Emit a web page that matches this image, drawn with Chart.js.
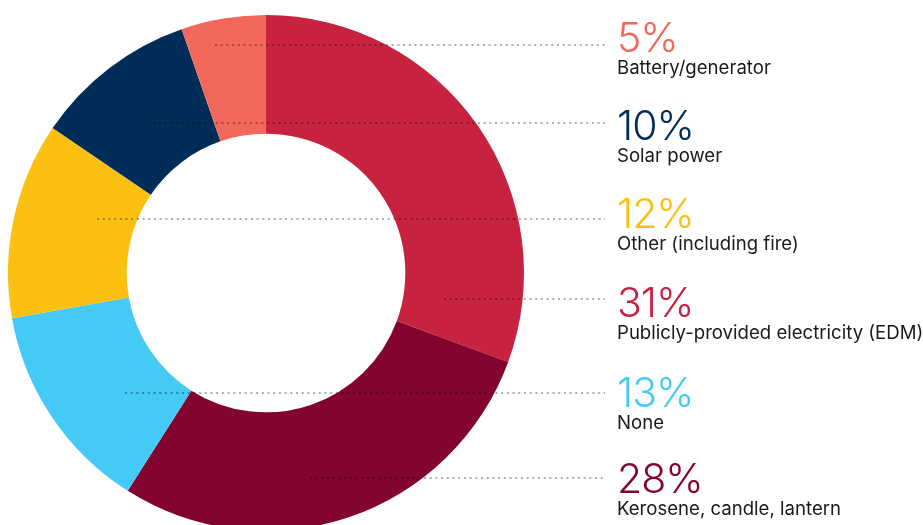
<!DOCTYPE html>
<html lang="en">

<head>
    <title>Lighting sources</title>
    <script src="https://cdn.jsdelivr.net/npm/chart.js@4.4.0/dist/chart.umd.min.js"></script>
    <style>
        html, body {
            margin: 0;
            padding: 0;
            background: #fff;
            width: 923px;
            height: 525px;
            overflow: hidden;
            font-family: Inter, "Noto Sans", sans-serif;
        }

        .wrap {
            position: absolute;
            left: 0;
            top: 0;
            width: 923px;
            height: 540px;
        }

        .row {
            position: absolute;
            left: 617px;
            white-space: nowrap;
        }

        .pct {
            font-size: 41px;
            line-height: 42px;
            font-weight: 300;
            letter-spacing: -1px;
        }

        .lbl {
            font-size: 18.6px;
            line-height: 22px;
            margin-top: -2px;
            color: #1a1a1a;
        }
    </style>
</head>

<body>
    <div class="wrap">
        <canvas id="myChart"></canvas>
    </div>
    <div id="labels"></div>

    <script>
        // data (clockwise from 12 o'clock), slice sizes
        var categories = [
            'Publicly-provided electricity (EDM)',
            'Kerosene, candle, lantern',
            'None',
            'Other (including fire)',
            'Solar power',
            'Battery/generator'
        ];
        var shares = [30.6, 28.4, 13.2, 12.3, 10.2, 5.3];
        var shareLabels = ['31%', '28%', '13%', '12%', '10%', '5%'];
        var colours = ['#C7223F', '#82042F', '#45C9F5', '#FCC012', '#002D58', '#F2685A'];

        // legend order on the right side (index into categories)
        var legendOrder = [5, 4, 3, 0, 2, 1];
        var legendTop = [16, 104, 192, 281, 371, 457];

        // leader lines: [start x, y] per slice, same order as categories
        var leaders = [[444, 299], [310, 478], [125, 393], [97, 219], [153, 123], [215, 45]];
        var leaderEnd = 605;

        // labels at the right
        var html = '';
        legendOrder.forEach(function (idx, i) {
            html += '<div class="row" style="top:' + legendTop[i] + 'px">' +
                '<div class="pct" style="color:' + colours[idx] + '">' + shareLabels[idx] + '</div>' +
                '<div class="lbl">' + categories[idx] + '</div>' +
                '</div>';
        });
        document.getElementById('labels').innerHTML = html;

        var leaderPlugin = {
            id: 'leaders',
            afterDraw: function (chart) {
                var c = chart.ctx;
                c.save();
                c.strokeStyle = 'rgba(0,0,0,0.32)';
                c.lineWidth = 2;
                c.setLineDash([2, 3.7]);
                leaders.forEach(function (l) {
                    c.beginPath();
                    c.moveTo(l[0], l[1]);
                    c.lineTo(leaderEnd, l[1]);
                    c.stroke();
                });
                c.restore();
            }
        };

        var ctx = document.getElementById('myChart').getContext('2d');
        var myChart = new Chart(ctx, {
            type: 'doughnut',
            data: {
                labels: categories,
                datasets: [{
                    data: shares,
                    backgroundColor: colours,
                    borderWidth: 0
                }]
            },
            options: {
                responsive: true,
                maintainAspectRatio: false,
                animation: false,
                cutout: '54%',
                layout: {
                    padding: { left: 8, top: 15, right: 399, bottom: 9 }
                },
                plugins: {
                    legend: { display: false },
                    tooltip: { enabled: false }
                }
            },
            plugins: [leaderPlugin]
        });
    </script>
</body>

</html>
